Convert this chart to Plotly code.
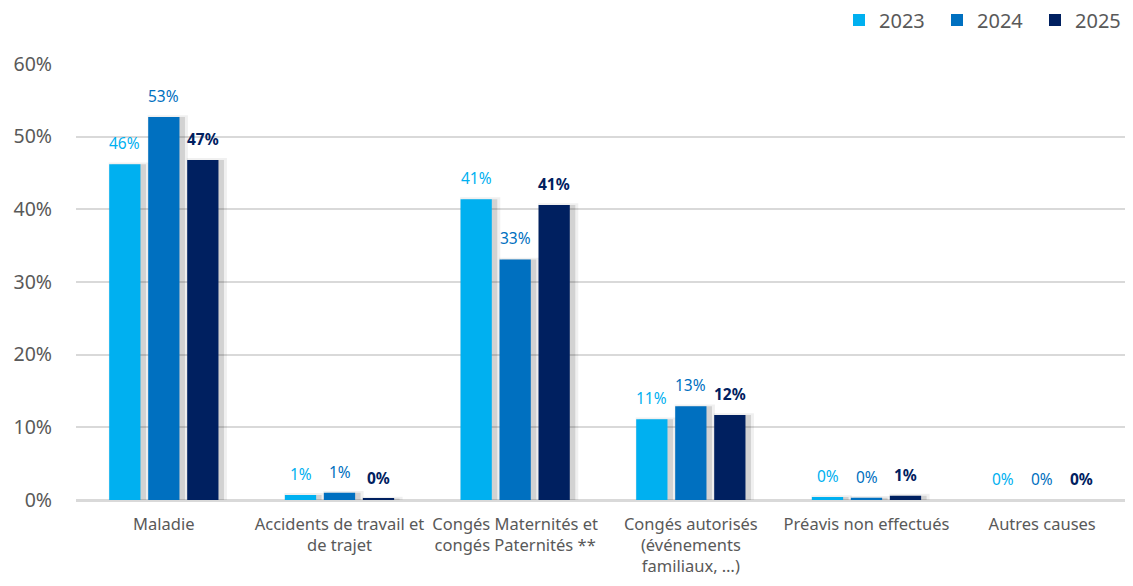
import plotly.graph_objects as go

categories = [
    "Maladie",
    "Accidents de travail et<br>de trajet",
    "Congés Maternités et<br>congés Paternités **",
    "Congés autorisés<br>(événements<br>familiaux, …)",
    "Préavis non effectués",
    "Autres causes",
]
years = ["2023", "2024", "2025"]
v2023 = [46.2, 0.7, 41.4, 11.1, 0.4, 0.0]
v2024 = [52.7, 1.0, 33.1, 12.9, 0.3, 0.0]
v2025 = [46.8, 0.2, 40.6, 11.7, 0.6, 0.0]
colors = ["#00B0F0", "#0070C0", "#002060"]

FONT = "Noto Sans"
# page body has an 8px margin, so the figure is sized/offset to compensate
W, H = 1125, 578
ML, MR, MT, MB = 68, 3, 56, 86
plot_w = W - ML - MR
plot_h = H - MT - MB
px_per_unit = plot_w / len(categories)

slot = 0.222          # category units per bar slot
bar_w = 0.178         # bar width in category units
sh = 4 / px_per_unit  # shadow offset in category units

series = [v2023, v2024, v2025]

fig = go.Figure()

# soft drop shadows (drawn first, behind bars)
for i, vals in enumerate(series):
    center = (i - 1) * slot
    fig.add_trace(go.Bar(
        x=categories, y=[v + 0.25 if v > 0 else 0 for v in vals],
        width=bar_w + 9 / px_per_unit,
        offset=center + sh - (bar_w + 9 / px_per_unit) / 2,
        marker=dict(color="rgba(0,0,0,0.06)", line=dict(width=0)),
        showlegend=False, hoverinfo="skip",
    ))
    fig.add_trace(go.Bar(
        x=categories, y=vals,
        width=bar_w + 3 / px_per_unit,
        offset=center + sh - (bar_w + 3 / px_per_unit) / 2,
        marker=dict(color="rgba(0,0,0,0.12)", line=dict(width=0)),
        showlegend=False, hoverinfo="skip",
    ))

for i, (name, vals, col) in enumerate(zip(years, series, colors)):
    center = (i - 1) * slot
    fig.add_trace(go.Bar(
        name=name,
        x=categories,
        y=vals,
        width=bar_w,
        offset=center - bar_w / 2,
        marker=dict(color=col, line=dict(width=0)),
        hoverinfo="skip",
    ))
    bold = name == "2025"
    for c, v in zip(categories, vals):
        t = f"{round(v):.0f}%"
        fig.add_annotation(
            x=c, y=v, xref="x", yref="y",
            text=f"<b>{t}</b>" if bold else t,
            showarrow=False,
            xshift=center * px_per_unit,
            yanchor="bottom", yshift=8,
            font=dict(family=FONT, size=15.5, color=col),
        )

fig.update_layout(
    width=W,
    height=H,
    barmode="overlay",
    plot_bgcolor="white",
    paper_bgcolor="white",
    margin=dict(l=ML, r=MR, t=MT, b=MB, autoexpand=False),
    font=dict(family=FONT, color="#595959"),
    legend=dict(
        orientation="h",
        x=1.0, xanchor="right", xref="container",
        y=1 + 44 / plot_h, yanchor="middle", yref="paper",
        font=dict(family=FONT, size=20, color="#595959"),
        traceorder="normal",
        entrywidth=53,
    ),
    xaxis=dict(
        tickfont=dict(family=FONT, size=16.5, color="#595959"),
        showline=True, linecolor="#d9d9d9", linewidth=1.5,
        ticks="",
        ticklabelstandoff=8,
        automargin=False,
    ),
    yaxis=dict(
        range=[0, 60],
        dtick=10,
        ticksuffix="%",
        tickfont=dict(family=FONT, size=19.5, color="#595959"),
        showgrid=True, gridcolor="#d9d9d9", gridwidth=1.5,
        zeroline=True, zerolinecolor="#d9d9d9", zerolinewidth=1.5,
        ticklabelstandoff=23,
        automargin=False,
    ),
)

fig.write_html("out.html")
